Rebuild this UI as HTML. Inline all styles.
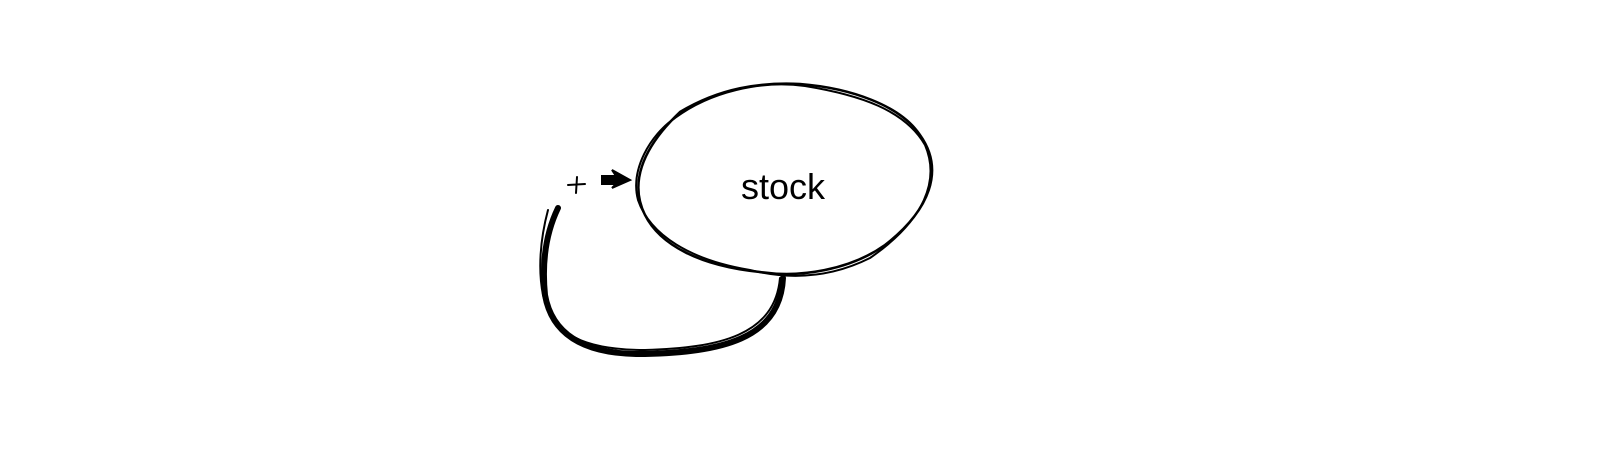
<!DOCTYPE html>
<html><head><style>html,body{margin:0;padding:0;background:#fff;width:1601px;height:452px;overflow:hidden}</style></head>
<body>
<svg width="1601" height="452" viewBox="0 0 1601 452" xmlns="http://www.w3.org/2000/svg">
<g fill="none" stroke="#000" stroke-linecap="round">
<path d="M680,112 C720,88 760,82 800,84 C850,88 900,105 920,135 C945,170 930,210 885,245 C850,270 800,278 760,272 C700,266 660,245 645,215 C630,185 640,150 680,112" stroke-width="2.5"/>
<path d="M675,118 C710,92 760,80 805,86 C860,95 905,110 925,145 C940,180 925,220 870,258 C830,278 790,280 750,270 C690,260 650,235 638,200 C630,170 650,135 675,118" stroke-width="2"/>
<path d="M558,208 C545,235 542,265 545,295 C552,335 585,355 645,354 C720,352 780,340 783,278" stroke-width="6"/>
<path d="M548,210 C540,240 538,270 543,295 C552,335 585,350 645,350 C720,348 775,335 780,278" stroke-width="2"/>
<path d="M602,176 L616,176 L612,170 L630,180 L612,188 L616,184 L602,184 Z" fill="#000" stroke-width="2"/>
<path d="M568,185 L585,184 M577,177 L576,193" stroke-width="2"/>
</g>
<text x="783" y="199" font-family="Liberation Sans, sans-serif" font-size="36" text-anchor="middle" fill="#000">stock</text>
</svg>
</body></html>
